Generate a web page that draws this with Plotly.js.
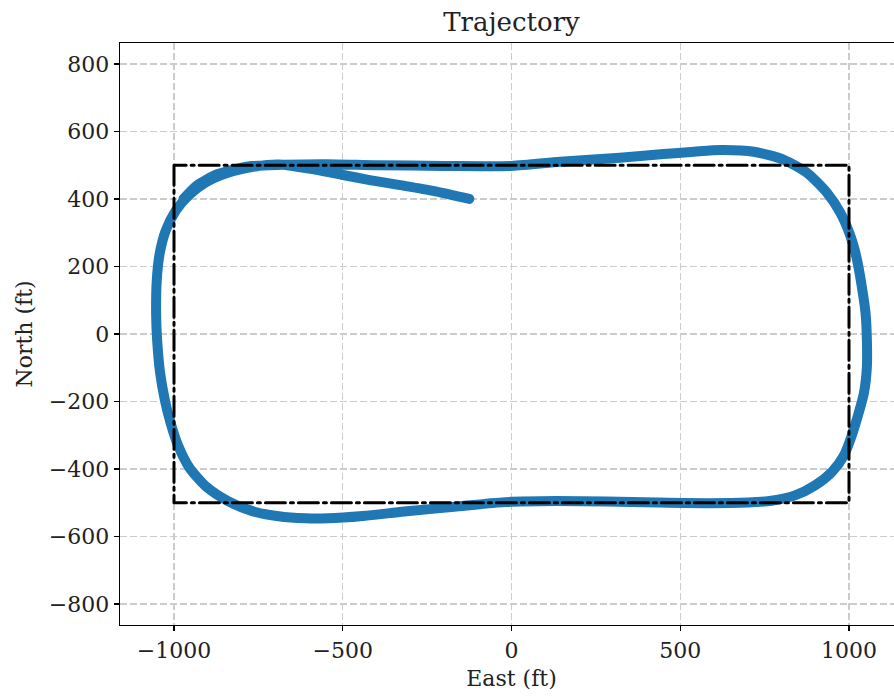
<!DOCTYPE html>
<html>
<head>
<meta charset="utf-8">
<script src="https://cdn.plot.ly/plotly-3.0.1.min.js"></script>
<style>
  html, body { margin: 0; padding: 0; overflow: hidden; background: #fff; }
  #chart { width: 904px; height: 696px; }
  .scatterlayer path.js-line { stroke-linecap: round; stroke-linejoin: round; }
</style>
</head>
<body>
<div id="chart"></div>
<script>
// Trajectory (ft)
const trajEast = [
  -125, -232, -330, -420, -499, -600, -690, -760, -840, -905, -955, -995, -1025, -1043, -1051, -1053,
  -1050, -1041, -1027, -1010, -988, -955, -905, -840, -770, -690, -610, -544, -440, -318, -170,
  -19, 132, 281, 431, 582, 700, 770, 840, 900, 950, 985, 1005, 1024, 1044, 1053, 1053,
  1049, 1038, 1024, 1005, 975, 935, 876, 807, 718, 620, 541, 450, 321, 144,
  0, -200, -400, -550, -680, -780, -870, -932, -972
];
const trajNorth = [
  400, 424, 441, 456, 471, 490, 502, 496, 478, 450, 412, 365, 305, 235, 160, 62,
  -18, -116, -196, -264, -330, -395, -452, -495, -524, -540, -546, -546, -539, -526, -512,
  -498, -495, -496, -499, -501, -499, -494, -478, -448, -408, -360, -310, -250, -176, -97, -18,
  62, 140, 219, 288, 358, 418, 477, 516, 540, 545, 540, 533, 522, 510,
  498, 498, 500, 503, 501, 496, 474, 440, 400
];
// Reference rectangle (ft)
const rectEast = [-1000, -1000, 1000, 1000, -1000];
const rectNorth = [500, -500, -500, 500, 500];
// Ticks
const xTickVals = [-1000, -500, 0, 500, 1000];
const xTickText = ["\u22121000", "\u2212500", "0", "500", "1000"];
const yTickVals = [-800, -600, -400, -200, 0, 200, 400, 600, 800];
const yTickText = ["\u2212800", "\u2212600", "\u2212400", "\u2212200", "0", "200", "400", "600", "800"];

const FONT = "DejaVu Serif";
const axisCommon = {
  showline: true, mirror: true, linecolor: "#000", linewidth: 1.4,
  ticks: "outside", ticklen: 5, tickwidth: 1.4, tickcolor: "#000",
  showgrid: true, gridcolor: "#cccccc", gridwidth: 1.4, griddash: "7px,3px",
  zeroline: false, tickmode: "array",
  tickfont: { family: FONT, size: 22, color: "#222" },
  automargin: false
};

const data = [
  {
    x: trajEast, y: trajNorth, type: "scatter", mode: "lines",
    line: { color: "#1f77b4", width: 10, shape: "spline", smoothing: 0.7 },
    hoverinfo: "skip", showlegend: false
  },
  {
    x: rectEast, y: rectNorth, type: "scatter", mode: "lines",
    line: { color: "#000", width: 3, dash: "20px,5px,3px,5px" },
    hoverinfo: "skip", showlegend: false
  }
];

const layout = {
  width: 904, height: 696,
  margin: { l: 120, r: 1, t: 43, b: 71 },
  paper_bgcolor: "#fff", plot_bgcolor: "#fff",
  font: { family: FONT, size: 22, color: "#222" },
  title: {
    text: "Trajectory", font: { family: FONT, size: 26, color: "#222" },
    x: 0.5, xref: "paper", xanchor: "center",
    y: 1 - 22 / 696, yref: "container", yanchor: "middle"
  },
  xaxis: Object.assign({}, axisCommon, {
    range: [-1160, 1160], tickvals: xTickVals, ticktext: xTickText,
    title: { text: "East (ft)", font: { family: FONT, size: 22, color: "#222" }, standoff: 9 }
  }),
  yaxis: Object.assign({}, axisCommon, {
    range: [-862, 862], tickvals: yTickVals, ticktext: yTickText,
    title: { text: "North (ft)", font: { family: FONT, size: 22, color: "#222" }, standoff: 10 }
  })
};

Plotly.newPlot("chart", data, layout, { staticPlot: true, displayModeBar: false });
</script>
</body>
</html>
